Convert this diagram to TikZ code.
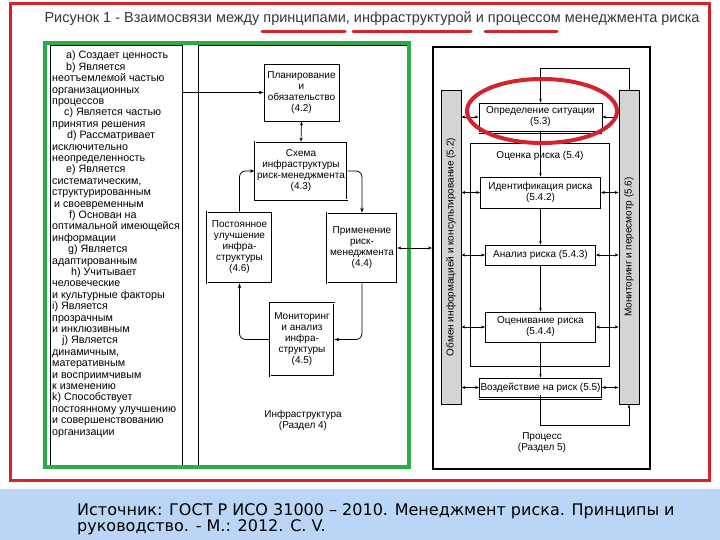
\documentclass[tikz,border=0pt]{standalone}
\usepackage{fontspec}
\setmainfont{Liberation Sans}
\newfontfamily\footfont{DejaVu Sans}
\usetikzlibrary{arrows.meta}
\definecolor{framered}{RGB}{212,35,45}
\definecolor{framegreen}{RGB}{42,172,74}
\definecolor{footblue}{RGB}{186,213,245}
\definecolor{bargray}{RGB}{212,212,212}
\definecolor{titlegray}{RGB}{55,55,55}
\begin{document}
\begin{tikzpicture}[x=1pt,y=-1pt,
  lbl/.style={font=\fontsize{10}{11}\selectfont, align=center, inner sep=0pt},
  ibox/.style={draw, line width=0.8pt, fill=white, font=\fontsize{10}{11}\selectfont, align=center, inner sep=1pt},
  dbox/.style={ibox, double, double distance=1pt},
  arr/.style={-{Stealth[length=5pt,width=3.5pt]}, line width=0.8pt},
  arr2/.style={{Stealth[length=4pt,width=3pt]}-{Stealth[length=4pt,width=3pt]}, line width=0.7pt},
  varr/.style={-{Stealth[length=4pt,width=2.5pt]}, line width=0.5pt},
  redline/.style={framered, line width=3pt, line cap=round}
]
\useasboundingbox (0,0) rectangle (720,540);
\fill[white] (0,0) rectangle (720,540);
% footer band
\fill[footblue] (0,489) rectangle (720,540);
\node[anchor=north west, align=left, font=\footfont\fontsize{16}{16}\selectfont, inner sep=0pt] (foot) at (77,503)
  {Источник: ГОСТ Р ИСО 31000 – 2010. Менеджмент риска. Принципы и\\руководство. - М.: 2012. С. V.};
% red frame
\draw[framered, line width=3pt] (10.5,4) rectangle (709,480);
% title
\node[font=\fontsize{14.5}{16}\selectfont, text=titlegray, inner sep=0pt] (title) at (372,18.5)
  {Рисунок 1 - Взаимосвязи между принципами, инфраструктурой и процессом менеджмента риска};
\draw[redline] (262,32) -- (345,32);
\draw[redline] (353,32) -- (471,32);
\draw[redline] (485,32) -- (557,32);

% principles box
\node[draw, line width=1pt, minimum width=132pt, minimum height=421pt, anchor=north west, inner sep=0pt] (princ) at (50,45) {};
\node[anchor=north west, align=left, font=\fontsize{10.7}{11.4}\selectfont, inner sep=0pt] (princtext) at (52,51)
 {\hspace*{14pt}a) Создает ценность\\
  \hspace*{14pt}b) Является\\
  неотъемлемой частью\\
  организационных\\
  процессов\\
  \hspace*{12pt}c) Является частью\\
  принятия решения\\
  \hspace*{15pt}d) Рассматривает\\
  исключительно\\
  неопределенность\\
  \hspace*{14pt}e) Является\\
  систематическим,\\
  структурированным\\
  \hspace*{2pt}и своевременным\\
  \hspace*{17pt}f) Основан на\\
  оптимальной имеющейся\\
  информации\\
  \hspace*{16pt}g) Является\\
  адаптированным\\
  \hspace*{19pt}h) Учитывает\\
  человеческие\\
  и культурные факторы\\
  i) Является\\
  прозрачным\\
  и инклюзивным\\
  \hspace*{10pt}j) Является\\
  динамичным,\\
  матеративным\\
  и восприимчивым\\
  к изменению\\
  k) Способствует\\
  постоянному улучшению\\
  и совершенствованию\\
  организации};

% infrastructure box
\node[draw, line width=1pt, minimum width=210pt, minimum height=421pt, anchor=north west, inner sep=0pt] (infra) at (198,45) {};
\node[ibox, minimum width=75pt, minimum height=57pt] (plan) at (301.5,92.5) {Планирование\\и\\обязательство\\(4.2)};
\node[dbox, minimum width=92pt, minimum height=58pt] (schema) at (301,171) {Схема\\инфраструктуры\\риск-менеджмента\\(4.3)};
\node[dbox, minimum width=65pt, minimum height=71pt] (improve) at (239.5,247.5) {Постоянное\\улучшение\\инфра-\\структуры\\(4.6)};
\node[dbox, minimum width=70pt, minimum height=70pt] (apply) at (362,248) {Применение\\риск-\\менеджмента\\(4.4)};
\node[dbox, minimum width=64pt, minimum height=73pt] (monitor) at (302,339.5) {Мониторинг\\и анализ\\инфра-\\структуры\\(4.5)};
\node[lbl] (infralbl) at (303,420) {Инфраструктура\\(Раздел 4)};

\draw[arr] (princ.east |- plan.west) -- (plan.west);
\draw[arr2] (plan.south) -- (schema.north);
\draw[arr, rounded corners=6pt] (improve.north) |- (schema.west);
\draw[arr, rounded corners=6pt] (schema.east) -| (apply.north);
\draw[arr, rounded corners=6pt] (apply.south) |- (monitor.east);
\draw[arr, rounded corners=6pt] (monitor.west) -| (improve.south);

% green frame
\draw[framegreen, line width=4pt] (45,43) rectangle (409,467);

% process box
\node[draw, line width=1.6pt, minimum width=217pt, minimum height=422pt, anchor=north west, inner sep=0pt] (proc) at (432,46) {};
\draw[arr2] (apply.east) -- (apply.east -| proc.west);

\node[draw, fill=bargray, line width=0.8pt, minimum width=20pt, minimum height=314pt, inner sep=0pt] (leftbar) at (451,247) {};
\node[lbl, rotate=90] (lefttxt) at (leftbar.center) {Обмен информацией и консультирование (5.2)};
\node[draw, fill=bargray, line width=0.8pt, minimum width=20pt, minimum height=314pt, inner sep=0pt] (rightbar) at (629,247) {};
\node[lbl, rotate=90] (righttxt) at (rightbar.center) {Мониторинг и пересмотр (5.6)};

\node[draw, line width=0.8pt, minimum width=139pt, minimum height=223pt, inner sep=0pt] (assess) at (539.5,254.5) {};
\node[lbl] (assesslbl) at (540,156) {Оценка риска (5.4)};

\node[ibox, minimum width=123pt, minimum height=28pt] (situ) at (540.5,117) {Определение ситуации\\(5.3)};
\draw[line width=0.8pt] ([yshift=-2pt]situ.south west) -- ([yshift=-2pt]situ.south east);
\node[ibox, minimum width=120pt, minimum height=31pt] (ident) at (540.5,192.5) {Идентификация риска\\(5.4.2)};
\node[ibox, minimum width=110pt, minimum height=20pt] (anal) at (540.5,255) {Анализ риска (5.4.3)};
\node[ibox, minimum width=110pt, minimum height=30pt] (eval) at (540.5,327) {Оценивание риска\\(5.4.4)};
\node[ibox, minimum width=118pt, minimum height=19pt] (treat) at (540.5,387.5) {Воздействие на риск (5.5)};
\draw[line width=0.8pt] ([yshift=-2pt]treat.south west) -- ([yshift=-2pt]treat.south east);

\coordinate (looptop) at (540.5,68);
\coordinate (loopbot) at (540.5,425);
\draw[varr] (rightbar.north) |- (looptop) -- (situ.north);
\draw[varr] (situ.south) -- (ident.north);
\draw[varr] (ident.south) -- (anal.north);
\draw[varr] (anal.south) -- (eval.north);
\draw[varr] (eval.south) -- (treat.north);
\draw[varr] ([yshift=2pt]treat.south) -- (loopbot) -| (rightbar.south);

\foreach \n in {situ,ident,anal,eval,treat}{
  \draw[arr2] (leftbar.east |- \n.west) -- (\n.west);
  \draw[arr2] (\n.east) -- (\n.east -| rightbar.west);
}
\node[lbl] (proclbl) at (542,443) {Процесс\\(Раздел 5)};

% red ellipse
\draw[framered, line width=4pt] (542,111) ellipse [x radius=75, y radius=32];
\end{tikzpicture}
\end{document}
